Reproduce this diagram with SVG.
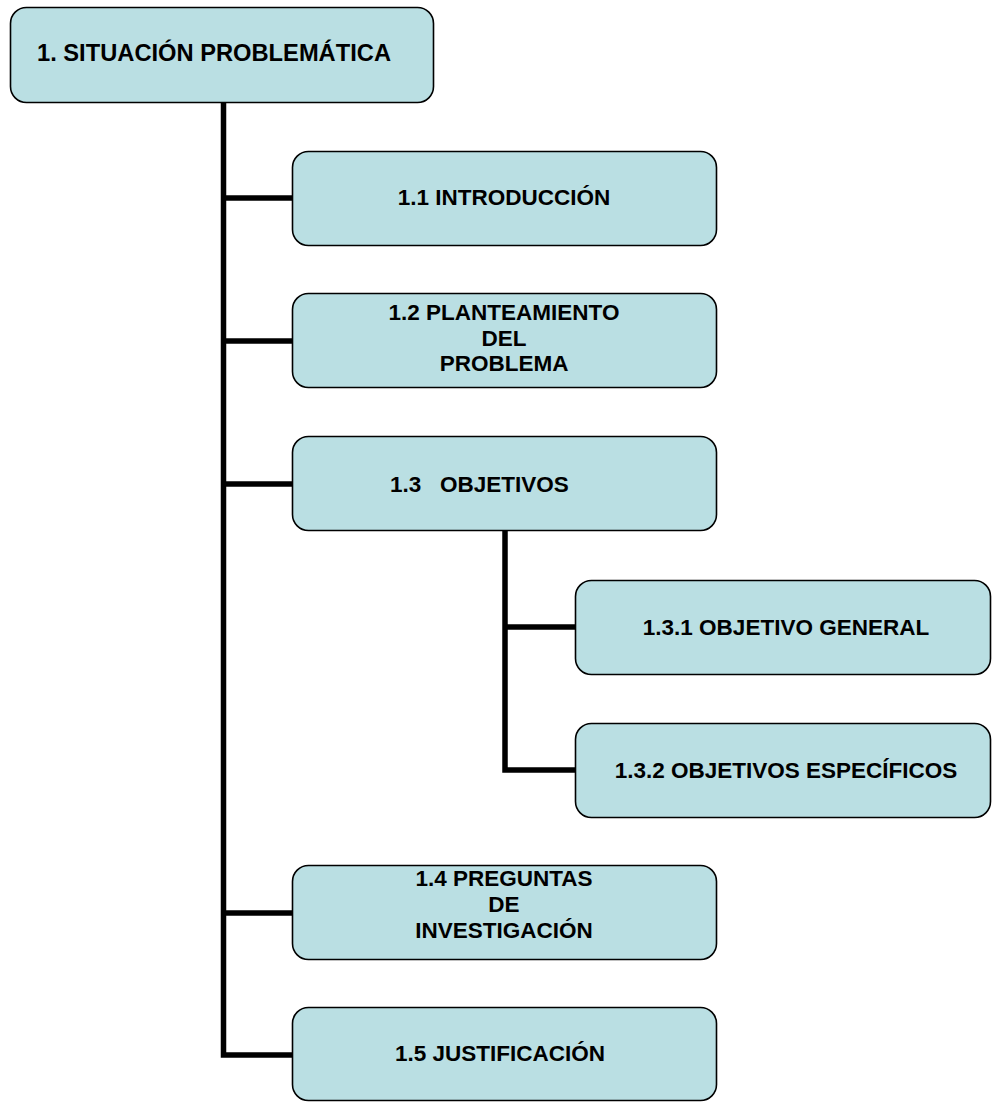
<svg xmlns="http://www.w3.org/2000/svg" width="993" height="1102" viewBox="0 0 993 1102">
  <style>
    .box { fill: #BADFE3; stroke: #000; stroke-width: 1.6; }
    .lbl { font-family: "Liberation Sans", Arial, sans-serif; font-weight: bold; font-size: 22.5px; fill: #000; text-anchor: middle; }
    .wire { fill: none; stroke: #000; stroke-width: 5.5; stroke-linejoin: miter; stroke-linecap: butt; }
  </style>
  <rect width="993" height="1102" fill="#fff"/>

  <!-- tree connectors -->
  <g id="connectors">
    <path class="wire" d="M223.5,103 V1055 H293"/>
    <path class="wire" d="M223.5,198 H293"/>
    <path class="wire" d="M223.5,341 H293"/>
    <path class="wire" d="M223.5,484 H293"/>
    <path class="wire" d="M223.5,913 H293"/>
    <path class="wire" d="M505,530 V770 H575"/>
    <path class="wire" d="M505,627 H575"/>
  </g>

  <g id="n1">
    <rect class="box" x="10.5" y="7.5" width="423" height="95" rx="16"/>
    <text class="lbl" x="214" y="61" style="font-size:23.7px">1. SITUACIÓN PROBLEMÁTICA</text>
  </g>

  <g id="n1-1">
    <rect class="box" x="292.5" y="151.5" width="424" height="94" rx="16"/>
    <text class="lbl" x="504" y="205">1.1 INTRODUCCIÓN</text>
  </g>

  <g id="n1-2">
    <rect class="box" x="292.5" y="293.5" width="424" height="94" rx="16"/>
    <text class="lbl" x="504" y="320">1.2 PLANTEAMIENTO</text>
    <text class="lbl" x="504" y="345.5">DEL</text>
    <text class="lbl" x="504" y="371">PROBLEMA</text>
  </g>

  <g id="n1-3">
    <rect class="box" x="292.5" y="436.5" width="424" height="94" rx="16"/>
    <text class="lbl" x="390" y="492" style="text-anchor:start" xml:space="preserve">1.3   OBJETIVOS</text>
  </g>

  <g id="n1-3-1">
    <rect class="box" x="575.5" y="580.5" width="415" height="94" rx="16"/>
    <text class="lbl" x="786" y="635">1.3.1 OBJETIVO GENERAL</text>
  </g>

  <g id="n1-3-2">
    <rect class="box" x="575.5" y="723.5" width="415" height="94" rx="16"/>
    <text class="lbl" x="786" y="778">1.3.2 OBJETIVOS ESPECÍFICOS</text>
  </g>

  <g id="n1-4">
    <rect class="box" x="292.5" y="865.5" width="424" height="94" rx="16"/>
    <text class="lbl" x="504" y="886">1.4 PREGUNTAS</text>
    <text class="lbl" x="504" y="912">DE</text>
    <text class="lbl" x="504" y="938">INVESTIGACIÓN</text>
  </g>

  <g id="n1-5">
    <rect class="box" x="292.5" y="1007.5" width="424" height="93" rx="16"/>
    <text class="lbl" x="500" y="1061">1.5 JUSTIFICACIÓN</text>
  </g>
</svg>
